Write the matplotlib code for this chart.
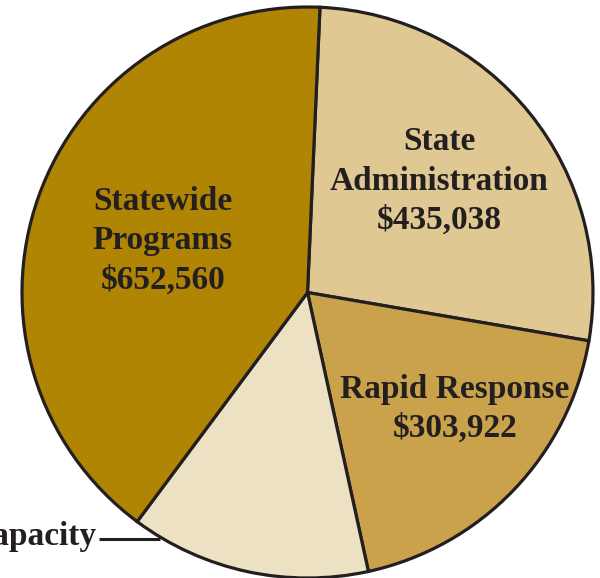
import matplotlib
matplotlib.use('Agg')
import matplotlib.pyplot as plt

# budget split, clockwise from the top
labels = ['State\nAdministration', 'Rapid Response', 'Capacity', 'Statewide\nPrograms']
values = [435038, 303922, 219000, 652560]
colors = ['#E0C893', '#C9A24B', '#EDE1C4', '#B08504']
show_value = [True, True, False, True]

W, H = 600, 578
fig = plt.figure(figsize=(W / 100, H / 100), dpi=100)
ax = fig.add_axes([0, 0, 1, 1])

cx, cy, r = 307.5, H - 292.5, 285.5
wedges, _ = ax.pie(values, colors=colors, startangle=87.5, counterclock=False,
                   center=(cx, cy), radius=r, frame=True,
                   wedgeprops=dict(edgecolor='#231F20', linewidth=2.3))
ax.set_xlim(0, W)
ax.set_ylim(0, H)
ax.set_aspect('equal')
ax.axis('off')

font = dict(family='Liberation Serif', weight='bold', size=24, color='#231F20',
            ha='center', va='center', linespacing=1.34)

# label positions inside the slices (pixel coords, y from top)
pos = {0: (439, 181), 1: (455, 409), 3: (163, 241)}
for i, (lab, val) in enumerate(zip(labels, values)):
    if not show_value[i]:
        continue
    x, y = pos[i]
    ax.text(x, H - y, f'{lab}\n${val:,}', **font)

# small slice gets an outside label with a leader line
ax.plot([99, 160], [H - 539, H - 539], color='#231F20', lw=2.2, solid_capstyle='butt')
ax.text(97, H - 537, labels[2], family='Liberation Serif', weight='bold', size=24,
        color='#231F20', ha='right', va='center')

fig.savefig('out.png', dpi=100)
